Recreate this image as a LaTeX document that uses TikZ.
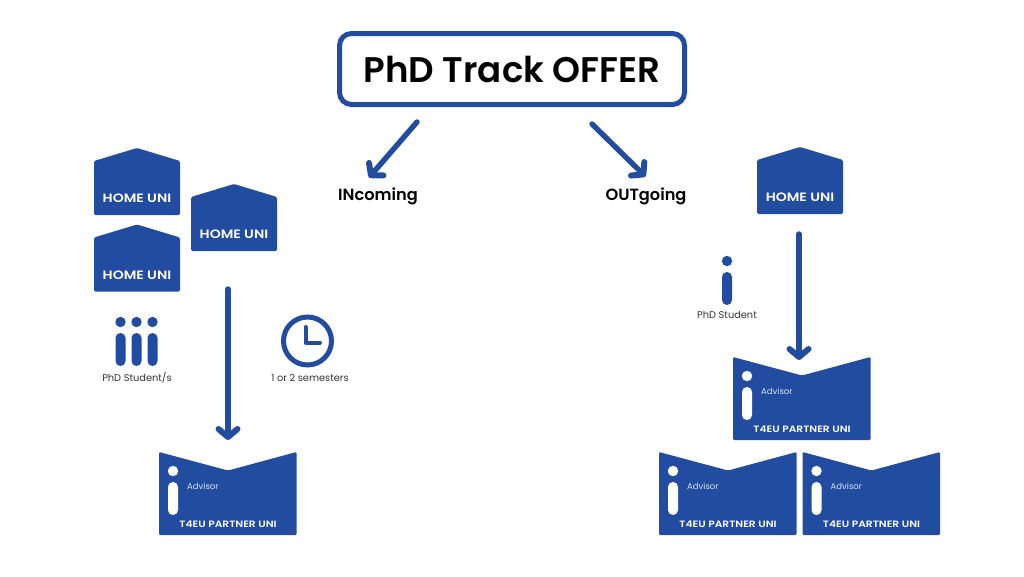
\documentclass[tikz,border=0pt]{standalone}
\usepackage{fontspec}
\setmainfont{Poppins}
\newfontfamily\headfont[UprightFont=* SemiBold]{Poppins}
\newfontfamily\widefont[UprightFont=* SemiBold, FakeStretch=1.16]{Poppins}
\usetikzlibrary{arrows.meta}

\definecolor{brand}{HTML}{214C9F}
\definecolor{softwhite}{HTML}{D9E3F6}

\tikzset{
    flow/.style={draw=brand, line width=5.4pt, line cap=round,
        -{Straight Barb[length=8pt, width=19pt, line width=6pt, round]}},
    unilabel/.style={text=white, inner sep=0pt, font=\widefont\fontsize{12.1}{13}\selectfont},
    partnerlabel/.style={text=white, inner sep=0pt, font=\widefont\fontsize{9.2}{10}\selectfont},
    smalllabel/.style={text=black!80, inner sep=0pt, font=\fontsize{9.8}{11}\selectfont},
    advisorlabel/.style={text=softwhite, inner sep=0pt, anchor=west, font=\fontsize{8.5}{10}\selectfont},
    sidelabel/.style={inner sep=0pt, font=\headfont\fontsize{16.2}{18}\selectfont},
    pics/student/.default=brand,
    pics/student/.style={code={
        \fill[#1] (0,0) circle (5.2);
        \fill[#1, rounded corners=4.9] (-5,11) rectangle (5,44);
    }},
    pics/homeuni/.style={code={
        \fill[brand, rounded corners=1.5] (-43,13) -- (0,0) -- (43,13) -- (43,67) -- (-43,67) -- cycle;
        \node (-label) [unilabel] at (0,50.5) {HOME UNI};
    }},
    pics/partneruni/.style={code={
        \fill[brand, rounded corners=1.2] (0,0) -- (69,18.5) -- (137.5,0) -- (137.5,83) -- (0,83) -- cycle;
        \pic at (14,19) {student=white};
        \node (-advisor) [advisorlabel] at (28,34) {Advisor};
        \node (-label) [partnerlabel] at (69,72) {T4EU PARTNER UNI};
    }},
}

\begin{document}
\begin{tikzpicture}[x=1pt, y=-1pt]
    \useasboundingbox (0,0) rectangle (1024,576);

    % Title
    \node (offer) at (512,69) [draw=brand, line width=5pt, rounded corners=12pt,
        minimum width=345pt, minimum height=71pt, inner sep=0pt,
        font=\headfont\fontsize{35.6}{38}\selectfont] {PhD Track OFFER};
    \node (incoming) at (378,196) [sidelabel] {INcoming};
    \node (outgoing) at (646,196) [sidelabel] {OUTgoing};

    % Left side
    \pic (home1) at (137,148) {homeuni};
    \pic (home2) at (234,184) {homeuni};
    \pic (home3) at (137,224.5) {homeuni};
    \pic (stud1) at (120.5,322) {student};
    \pic (stud2) at (136.5,322) {student};
    \pic (stud3) at (152.5,322) {student};
    \node (studlabel) at (137,378) [smalllabel] {PhD Student/s};
    \node (clock) at (307.5,341) [circle, draw=brand, line width=5pt, minimum size=48pt, inner sep=0pt] {};
    \node (clocklabel) at (310,377.5) [smalllabel] {1 or 2 semesters};
    \draw[brand, line width=4pt, line cap=round, line join=round] (305.5,327) -- (305.5,342.5) -- (320,342.5);
    \pic (part1) at (159,452) {partneruni};

    % Right side
    \pic (home4) at (800,147) {homeuni};
    \pic (stud4) at (727,261) {student};
    \node (stud4label) at (727,315) [smalllabel] {PhD Student};
    \pic (part2) at (733,357) {partneruni};
    \pic (part3) at (659,452) {partneruni};
    \pic (part4) at (802.5,452) {partneruni};

    % Arrows
    \coordinate (inA) at (417,122);
    \coordinate (inB) at (369,177.5);
    \coordinate (outA) at (592,124);
    \coordinate (outB) at (645.5,176.5);
    \coordinate (leftA) at (228,289);
    \coordinate (leftB) at (228,440);
    \coordinate (rightA) at (799,234);
    \coordinate (rightB) at (799,360);
    \draw[flow] (inA) -- (inB);
    \draw[flow] (outA) -- (outB);
    \draw[flow] (leftA) -- (leftB);
    \draw[flow] (rightA) -- (rightB);
\end{tikzpicture}
\end{document}
